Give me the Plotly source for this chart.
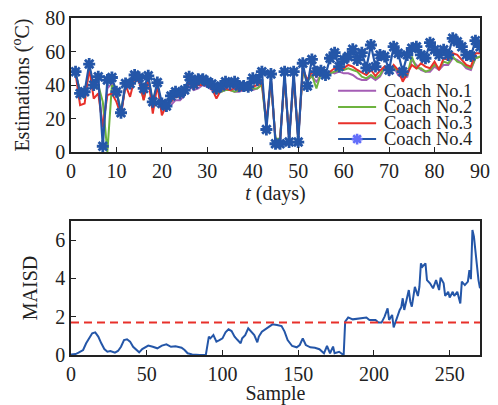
import plotly.graph_objects as go

# ---------------- data ----------------
days = list(range(1, 91))

coach1 = [47, 36, 33, 50, 38, 41, 12, 38, 41, 36,
          23, 40, 40, 44, 42, 33, 44, 29, 40, 27,
          25, 28, 31, 31, 34, 40, 37, 38, 40, 39,
          37, 35, 36, 37, 37, 36, 36, 37, 37, 37,
          38, 41, 17, 43, 7, 7, 45, 8, 45, 8,
          48, 43, 45, 42, 46, 45, 48, 47, 48, 47,
          47, 46, 44, 43, 43, 45, 43, 45, 50, 46,
          51, 46, 44, 45, 55, 52, 49, 48, 48, 51,
          49, 52, 52, 56, 55, 53, 50, 49, 56, 57]

coach2 = [47, 36, 32, 50, 38, 40, 30, 0, 40, 37,
          24, 40, 40, 44, 43, 31, 44, 30, 40, 28,
          26, 31, 34, 33, 36, 43, 38, 40, 41, 40,
          38, 35, 36, 37, 37, 36, 37, 37, 37, 38,
          38, 40, 16, 42, 8, 8, 44, 9, 44, 9,
          48, 42, 46, 38, 47, 46, 47, 48, 49, 49,
          50, 49, 48, 45, 44, 46, 44, 46, 51, 49,
          51, 48, 45, 46, 57, 50, 50, 48, 49, 52,
          50, 54, 53, 57, 54, 53, 51, 50, 56, 57]

coach3 = [47, 28, 29, 50, 32, 35, 15, 34, 35, 30,
          22, 40, 33, 44, 42, 31, 44, 23, 40, 22,
          28, 30, 33, 33, 35, 42, 38, 40, 40, 40,
          38, 32, 37, 38, 37, 38, 37, 37, 37, 39,
          40, 42, 18, 43, 7, 7, 45, 8, 45, 8,
          50, 43, 48, 45, 48, 46, 48, 50, 51, 50,
          52, 51, 49, 47.4, 46, 49, 45.4, 48.6, 51, 47,
          52, 49, 42, 47, 52, 50, 53, 51, 50, 54,
          49, 56, 55, 59, 58, 55, 52, 51, 59, 59]

coach4 = [48, 35, 36, 52.5, 40, 45, 3.5, 43, 44.5, 36,
          23.5, 41, 41, 46, 44.5, 38, 45.5, 30, 41.5, 29,
          27.5, 33.5, 36, 35, 37, 45, 40.5, 43.5, 43.4, 42,
          40.6, 38, 39.4, 42, 40.6, 42, 39.4, 39.4, 39, 44,
          43, 48, 13.5, 46.6, 5, 5, 48, 6, 48, 6,
          53, 39.4, 55.3, 48, 48.5, 46, 56, 59.3, 51, 55.3,
          57, 61.3, 55, 59.3, 50.3, 63.9, 51, 58, 57, 49,
          62.9, 59, 48, 58, 61.9, 62.9, 58, 56, 65.3, 61,
          58, 61, 58, 67.9, 65.9, 62.9, 58, 57.3, 66.5, 62.9]

series_names = ["Coach No.1", "Coach No.2", "Coach No.3", "Coach No.4"]

sample = [0, 1, 3, 5, 8, 10, 12, 14, 16, 18, 20, 22, 24, 26, 29, 31, 33, 35, 37, 39,
          41, 43, 45, 47, 51, 54, 57, 60, 63, 66, 69, 73, 75, 77, 80, 85, 89, 91, 92, 94,
          96, 98, 100, 102, 104, 106, 108, 110, 112, 113, 115, 117, 119, 121, 123, 124, 126, 129, 131, 133,
          136, 139, 141, 143, 146, 149, 151, 153, 155, 158, 161, 164, 167, 169, 171, 173, 174, 177, 179, 180,
          181, 183, 186, 190, 193, 195, 197, 201, 203, 205, 207, 209, 210, 212, 213, 215, 217, 218, 219, 220,
          223, 224, 225, 227, 229, 230, 231, 232, 234, 235, 237, 239, 240, 241, 243, 244, 246, 247, 249, 250,
          252, 253, 255, 257, 258, 260, 262, 263, 264, 265, 266, 267, 269, 270]

maisd = [0.02, 0.03, 0.05, 0.12, 0.26, 0.61, 0.87, 1.13, 1.18, 0.96, 0.61, 0.31, 0.17, 0.21, 0.12, 0.21, 0.43, 0.78, 0.82, 0.70,
         0.43, 0.26, 0.14, 0.31, 0.49, 0.43, 0.35, 0.49, 0.56, 0.43, 0.45, 0.38, 0.26, 0.09, 0.03, 0.0, 0.0, 0.96, 0.87, 1.04,
         0.70, 0.78, 0.87, 1.18, 1.34, 1.25, 0.96, 0.78, 0.61, 0.87, 1.04, 1.39, 1.22, 1.04, 0.66, 0.96, 1.22, 1.39, 1.53, 1.60,
         1.57, 1.51, 1.22, 0.78, 0.47, 0.40, 0.52, 0.87, 0.52, 0.40, 0.38, 0.30, 0.09, 0.47, 0.09, 0.44, 0.09, 0.17, 0.05, 0.0,
         1.74, 1.96, 1.86, 1.91, 1.91, 1.96, 1.83, 1.83, 1.69, 1.69, 2.00, 2.43, 1.83, 2.09, 1.44, 1.91, 2.35, 2.49, 2.96, 2.35,
         3.39, 2.78, 2.52, 3.56, 3.08, 3.56, 4.78, 4.61, 4.78, 3.91, 3.74, 3.48, 3.65, 3.91, 3.39, 4.04, 3.74, 3.08, 3.30, 3.00,
         3.30, 3.08, 3.30, 2.69, 3.83, 3.65, 3.83, 4.43, 3.96, 6.52, 6.17, 5.39, 3.91, 3.48]

threshold = 1.7
sample_range = [0, 270]

# ---------------- styles ----------------
FONT = "Liberation Serif"
INK = "#222222"
colors = ["#A45DB5", "#6DB33F", "#E8302A", "#2456A8"]

fig = go.Figure()

all_series = [coach1, coach2, coach3, coach4]
for i, (name, vals) in enumerate(zip(series_names, all_series)):
    if i == 3:
        fig.add_trace(go.Scatter(
            x=days, y=vals, name=name, mode="lines+markers",
            line=dict(color=colors[i], width=2.2),
            marker=dict(symbol="asterisk-open", size=10,
                        line=dict(color=colors[i], width=2.8)),
            xaxis="x", yaxis="y", showlegend=False))
    else:
        fig.add_trace(go.Scatter(
            x=days, y=vals, name=name, mode="lines",
            line=dict(color=colors[i], width=2),
            xaxis="x", yaxis="y", showlegend=False))

# bottom chart
fig.add_trace(go.Scatter(x=sample, y=maisd, mode="lines",
                         line=dict(color="#2456A8", width=2),
                         xaxis="x2", yaxis="y2", showlegend=False))
fig.add_trace(go.Scatter(x=sample_range, y=[threshold, threshold], mode="lines",
                         line=dict(color="#E8302A", width=2, dash="8px,5px"),
                         xaxis="x2", yaxis="y2", showlegend=False))

# custom legend on an overlay axis (0..1 within the top panel)
leg_x0, leg_x1, leg_tx = 0.653, 0.746, 0.760
leg_rows = [0.458, 0.336, 0.216, 0.097]
for i, name in enumerate(series_names):
    yy = leg_rows[i]
    fig.add_trace(go.Scatter(
        x=[leg_x0, leg_x1], y=[yy, yy], mode="lines",
        line=dict(color=colors[i], width=2),
        xaxis="x3", yaxis="y3", showlegend=False, hoverinfo="skip"))
    if i == 3:
        fig.add_trace(go.Scatter(
            x=[(leg_x0 + leg_x1) / 2], y=[yy], mode="markers",
            marker=dict(symbol="asterisk-open", size=9,
                        line=dict(color=colors[i], width=2.6)),
            xaxis="x3", yaxis="y3", showlegend=False, hoverinfo="skip"))
    fig.add_annotation(x=leg_tx, y=yy, xref="x3", yref="y3", text=name,
                       showarrow=False, xanchor="left", yanchor="middle",
                       font=dict(family=FONT, size=18.5, color=INK))

axis_common = dict(showline=True, linecolor=INK, linewidth=1.5, mirror=True,
                   ticks="inside", ticklen=5, tickwidth=1.3, tickcolor=INK,
                   showgrid=False, zeroline=False, automargin=False,
                   tickfont=dict(family=FONT, size=20, color=INK))

top_dom = [0.602, 1.0]
bot_dom = [0.0, 0.398]

fig.update_layout(
    width=498, height=405,
    margin=dict(l=71, r=18, t=18, b=50, autoexpand=False),
    paper_bgcolor="white", plot_bgcolor="white",
    font=dict(family=FONT, size=20, color=INK),
    showlegend=False,
    xaxis=dict(**axis_common, domain=[0, 1], range=[0, 90], dtick=10, anchor="y",
               title=dict(text="<i>t</i> (days)", standoff=2,
                          font=dict(family=FONT, size=20, color=INK))),
    yaxis=dict(**axis_common, domain=top_dom, range=[0, 80], dtick=20, anchor="x",
               title=dict(text="Estimations (<sup>o</sup>C)", standoff=10,
                          font=dict(family=FONT, size=20, color=INK))),
    xaxis2=dict(**axis_common, domain=[0, 1], range=sample_range, dtick=50, anchor="y2",
                title=dict(text="Sample", standoff=4,
                           font=dict(family=FONT, size=20, color=INK))),
    yaxis2=dict(**axis_common, domain=bot_dom, range=[0, 7], dtick=2, anchor="x2",
                title=dict(text="MAISD", standoff=12,
                           font=dict(family=FONT, size=20, color=INK))),
    xaxis3=dict(overlaying="x", range=[0, 1], visible=False, anchor="y3"),
    yaxis3=dict(overlaying="y", range=[0, 1], visible=False, anchor="x3"),
)

fig.write_html("out.html", config={"displayModeBar": False},
               post_script="document.body.style.margin='0px';document.body.style.padding='0px';")
